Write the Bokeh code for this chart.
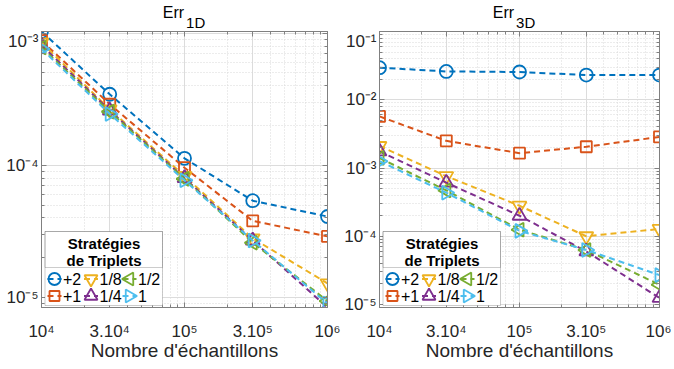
import math
from bokeh.plotting import figure
from bokeh.layouts import row, column
from bokeh.models import (FixedTicker, LogAxis, Label, BoxAnnotation, Range1d,
                          LinearScale, Div)
from bokeh.embed import file_html
from bokeh.resources import INLINE

# ---------------- data ----------------
n_samples = [1e4, 3e4, 1e5, 3e5, 1e6]
x_tick_values = [1e4, 3e4, 1e5, 3e5, 1e6]
x_tick_labels = ["10⁴", "3.10⁴", "10⁵", "3.10⁵", "10⁶"]

strategies = ["+2", "+1", "1/8", "1/4", "1/2", "1"]

# Err_1D
err1d_p2 = [1.03e-3, 3.45e-4, 1.13e-4, 5.4e-5, 4.1e-5]
err1d_p1 = [8.8e-4, 2.9e-4, 9.6e-5, 3.8e-5, 2.9e-5]
err1d_e8 = [8.5e-4, 2.65e-4, 8.3e-5, 2.8e-5, 1.28e-5]
err1d_e4 = [8.1e-4, 2.6e-4, 8.0e-5, 2.7e-5, 8.4e-6]
err1d_e2 = [7.8e-4, 2.55e-4, 7.9e-5, 2.6e-5, 9.4e-6]
err1d_e1 = [7.6e-4, 2.45e-4, 7.7e-5, 2.7e-5, 9.0e-6]

# Err_3D
err3d_p2 = [2.95e-2, 2.6e-2, 2.55e-2, 2.3e-2, 2.3e-2]
err3d_p1 = [5.7e-3, 2.5e-3, 1.65e-3, 2.05e-3, 2.85e-3]
err3d_e8 = [2.1e-3, 7.6e-4, 2.8e-4, 1.0e-4, 1.28e-4]
err3d_e4 = [1.75e-3, 6.1e-4, 2.0e-4, 6.0e-5, 1.25e-5]
err3d_e2 = [1.4e-3, 4.7e-4, 1.25e-4, 6.3e-5, 1.95e-5]
err3d_e1 = [1.26e-3, 4.35e-4, 1.2e-4, 6.3e-5, 2.7e-5]

y1_ticks = [1e-5, 1e-4, 1e-3]
y1_labels = ["10⁻⁵", "10⁻⁴", "10⁻³"]
y3_ticks = [1e-5, 1e-4, 1e-3, 1e-2, 1e-1]
y3_labels = ["10⁻⁵", "10⁻⁴", "10⁻³", "10⁻²", "10⁻¹"]

legend_title = ["Stratégies", "de Triplets"]

# ---------------- style / layout ----------------
colors = ["#0072BD", "#D95319", "#EDB120", "#7E2F8E", "#77AC30", "#4DBEEE"]
markers = ["circle", "square", "inverted_triangle", "triangle", "triangle", "triangle"]
angles = [0, 0, 0, 0, math.pi / 2, -math.pi / 2]
msizes = [13, 11, 14, 14, 14, 14]
lsizes = [12, 10, 13, 13, 13, 13]
# legend slots (pixels from the frame's bottom-left): column, row of each entry
leg_col = [0, 0, 1, 1, 2, 2]
leg_row = [0, 1, 0, 1, 0, 1]
leg_col_marker_x = [13, 49.5, 88]
leg_col_label_x = [21.5, 58, 96.5]
leg_row_y = [28.5, 11.5]

FONT = "Liberation Sans"
AX = "#808080"
TXT = "#262626"
FH = 276
TOP = 31


def minor_list(lo_exp, hi_exp, skip):
    out = []
    for e in range(lo_exp, hi_exp):
        for m in range(2, 10):
            if m not in skip:
                out.append(m * 10.0 ** e)
    return out


def make_fig(series, y_range, y_ticks, y_labels, y_exp, fw, bl, br):
    p = figure(frame_width=fw, frame_height=FH, x_axis_type="log", y_axis_type="log",
               x_range=Range1d(1e4, 1e6), y_range=Range1d(*y_range),
               output_backend="svg", toolbar_location=None,
               min_border_left=bl, min_border_right=br,
               min_border_top=0, min_border_bottom=54)
    p.outline_line_color = AX
    p.outline_line_width = 1
    p.background_fill_color = "white"
    p.border_fill_color = "white"
    p.extra_x_ranges = {"px": Range1d(0, fw)}
    p.extra_x_scales = {"px": LinearScale()}
    p.extra_y_ranges = {"py": Range1d(0, FH)}
    p.extra_y_scales = {"py": LinearScale()}

    xt = FixedTicker(ticks=x_tick_values, minor_ticks=minor_list(4, 6, {3}))
    yt = FixedTicker(ticks=y_ticks, minor_ticks=minor_list(y_exp[0], y_exp[1], set()))

    for ax, t in ((p.xaxis[0], xt), (p.yaxis[0], yt)):
        ax.ticker = t
        ax.axis_line_color = AX
        ax.major_tick_line_color = AX
        ax.minor_tick_line_color = AX
        ax.major_tick_in = 5
        ax.major_tick_out = 0
        ax.minor_tick_in = 3
        ax.minor_tick_out = 0
        ax.major_label_text_font = FONT
        ax.major_label_text_font_size = "17px"
        ax.major_label_text_color = TXT
        ax.axis_label_text_font = FONT
        ax.axis_label_text_font_style = "normal"
        ax.axis_label_text_color = TXT
    p.xaxis[0].major_label_overrides = dict(zip(x_tick_values, x_tick_labels))
    p.yaxis[0].major_label_overrides = dict(zip(y_ticks, y_labels))
    p.xaxis[0].major_label_standoff = 14
    p.yaxis[0].major_label_standoff = 3
    p.xaxis[0].axis_label = "Nombre d'échantillons"
    p.xaxis[0].axis_label_text_font_size = "19px"
    p.xaxis[0].axis_label_standoff = -4

    # ticks on top and right (box on), no labels
    for loc, t, tv in (("above", xt, x_tick_values), ("right", yt, y_ticks)):
        a = LogAxis(ticker=t, major_label_overrides={v: "" for v in tv},
                    major_label_text_color=None, major_label_text_font_size="1px",
                    axis_line_color=AX, major_tick_line_color=AX,
                    minor_tick_line_color=AX, major_tick_in=5, major_tick_out=0,
                    minor_tick_in=3, minor_tick_out=0, major_label_standoff=0)
        p.add_layout(a, loc)

    # grids
    for g in (p.xgrid[0], p.ygrid[0]):
        g.grid_line_color = "#dcdcdc"
        g.grid_line_width = 1
        g.minor_grid_line_color = "#d8d8d8"
        g.minor_grid_line_dash = "1 2"
        g.minor_grid_line_width = 1
    p.xgrid[0].ticker = xt
    p.ygrid[0].ticker = yt

    for i, ys in enumerate(series):
        p.line(n_samples, ys, line_color=colors[i], line_width=2, line_dash="6 4")
        p.scatter(n_samples, ys, marker=markers[i], angle=angles[i],
                  size=msizes[i], line_color=colors[i], line_width=1.8,
                  fill_color=None)

    # ---- legend (box, title, entries) ----
    for bot in (2, 40):
        p.add_layout(BoxAnnotation(left=3.5, right=121, bottom=bot, top=76,
                                   left_units="screen", right_units="screen",
                                   bottom_units="screen", top_units="screen",
                                   fill_color="white", fill_alpha=1 if bot == 2 else 0,
                                   line_color="#555555", line_width=1))
    for txt, yy in zip(legend_title, (64, 47)):
        p.add_layout(Label(x=62.5, y=yy, x_units="screen", y_units="screen",
                           text=txt, text_align="center", text_baseline="middle",
                           text_font=FONT, text_font_style="bold",
                           text_font_size="15px", text_color="black"))
    for i in range(len(strategies)):
        mx = leg_col_marker_x[leg_col[i]]
        my = leg_row_y[leg_row[i]]
        p.segment(x0=[mx - 7], y0=[my], x1=[mx + 7], y1=[my],
                  line_color=colors[i], line_width=2, line_dash="6 4",
                  x_range_name="px", y_range_name="py", level="overlay")
        p.scatter([mx], [my], marker=markers[i], angle=angles[i], size=lsizes[i],
                  line_color=colors[i], line_width=1.8, fill_color=None,
                  x_range_name="px", y_range_name="py", level="overlay")
        p.add_layout(Label(x=leg_col_label_x[leg_col[i]], y=my, x_units="screen",
                           y_units="screen", text=strategies[i], text_align="left",
                           text_baseline="middle", text_font=FONT,
                           text_font_size="16px", text_color="black"))
    return p


def title_div(sub, fw, bl, br):
    w = bl + fw + br
    html = (
        f'<div style="position:relative;width:{w}px;height:{TOP}px;margin:0;padding:0;'
        f"font-family:'{FONT}',sans-serif;color:black;\">"
        f'<div style="position:absolute;left:{bl}px;width:{fw}px;top:4.8px;'
        f'text-align:center;white-space:nowrap;font-size:16px;line-height:16px;">'
        f'Err<span style="font-size:15px;position:relative;top:10px;'
        f'margin-left:2px;">{sub}</span></div></div>'
    )
    return Div(text=html, width=w, height=TOP, margin=0,
               styles={"overflow": "visible"})


s1 = [err1d_p2, err1d_p1, err1d_e8, err1d_e4, err1d_e2, err1d_e1]
s3 = [err3d_p2, err3d_p1, err3d_e8, err3d_e4, err3d_e2, err3d_e1]

g1 = (286, 41, 14)
g2 = (280, 33, 12)
p1 = make_fig(s1, (8.4e-6, 1.03e-3), y1_ticks, y1_labels, (-6, -3), *g1)
p2 = make_fig(s3, (9.05e-6, 1e-1), y3_ticks, y3_labels, (-6, -1), *g2)

layout = row(column(title_div("1D", *g1), p1, spacing=0),
             column(title_div("3D", *g2), p2, spacing=0), spacing=0)
open("out.html", "w").write(file_html(layout, INLINE))
